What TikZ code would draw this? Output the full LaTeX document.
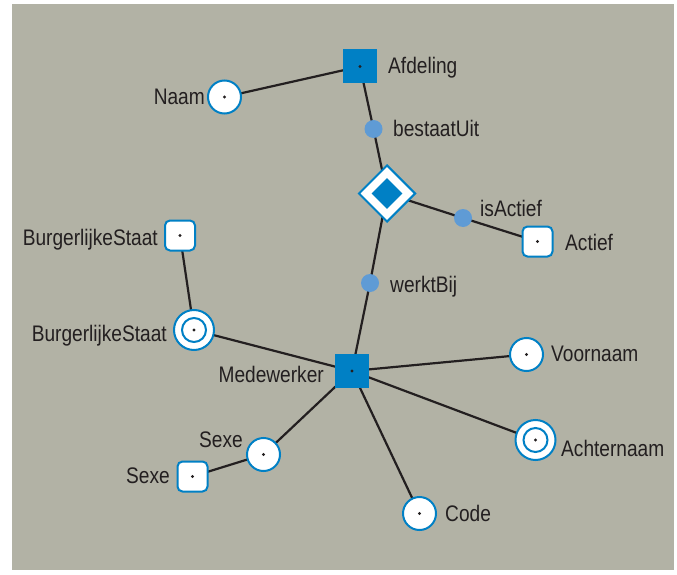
\documentclass[tikz,border=0pt]{standalone}
\usepackage{fontspec}
\usetikzlibrary{shapes.geometric}
\newfontfamily\labfont[FakeStretch=0.85]{Liberation Sans}
\definecolor{bggray}{RGB}{178,178,165}
\definecolor{myblue}{RGB}{0,128,197}
\definecolor{dotblue}{RGB}{95,155,213}
\definecolor{ink}{RGB}{35,31,32}
\pgfdeclarelayer{bg}
\pgfdeclarelayer{edges}
\pgfsetlayers{bg,edges,main}
\tikzset{
  ent/.style={rectangle, fill=myblue, minimum size=34pt, inner sep=0pt},
  att/.style={circle, draw=myblue, line width=2pt, fill=white, minimum size=33pt, inner sep=0pt},
  datt/.style={circle, draw=myblue, line width=2pt, fill=white, minimum size=40pt, inner sep=0pt},
  valbox/.style={rectangle, rounded corners=5pt, draw=myblue, line width=2pt, fill=white, minimum size=30pt, inner sep=0pt},
  reldot/.style={circle, fill=dotblue, minimum size=18pt, inner sep=0pt},
  lbl/.style={inner sep=0pt, text=ink, font=\labfont\fontsize{22.5}{25}\selectfont},
  conn/.style={draw=ink, line width=2.2pt},
}
\begin{document}
\begin{tikzpicture}[x=1pt,y=-1pt]
\useasboundingbox (0,0) rectangle (677,575);
\begin{pgfonlayer}{bg}
\fill[bggray] (12,4) rectangle (674,570);
\end{pgfonlayer}

% entities
\node[ent] (afd) at (360,66.5) {};
\node[ent] (mdw) at (352,371) {};
% diamond
\node[diamond, draw=myblue, line width=2pt, fill=white, minimum size=57pt, inner sep=0pt] (dia) at (387,193.5) {};
\node[diamond, fill=myblue, minimum size=31pt, inner sep=0pt] (diain) at (dia) {};
% relation dots
\node[reldot] (best) at (373.5,129) {};
\node[reldot] (isact) at (463,218) {};
\node[reldot] (werkt) at (370,283) {};
% attributes
\node[att] (naam) at (224.5,97) {};
\node[att] (voor) at (526.5,354.5) {};
\node[att] (code) at (419.5,513.5) {};
\node[att] (sexec) at (263.5,454.5) {};
\node[datt] (bsc) at (194,330) {};
\node[datt] (acht) at (535.5,440) {};
\draw[myblue, line width=2pt] (bsc) circle (12pt);
\draw[myblue, line width=2pt] (acht) circle (12pt);
% value boxes
\node[valbox] (bss) at (180,235.5) {};
\node[valbox] (sexes) at (192.5,476.5) {};
\node[valbox] (actief) at (537.5,241.5) {};

% center dots
\foreach \n in {afd,mdw,naam,voor,code,sexec,bsc,acht,bss,sexes,actief}
  \fill[ink] (\n) circle (1.6pt);

% connectors
\begin{pgfonlayer}{edges}
\draw[conn] (naam.center) -- (afd.center);
\draw[conn] (afd.center) -- (best.center) -- (dia.center);
\draw[conn] (dia.center) -- (isact.center) -- (actief.center);
\draw[conn] (dia.center) -- (werkt.center) -- (mdw.center);
\draw[conn] (bss.center) -- (bsc.center);
\draw[conn] (bsc.center) -- (mdw.center);
\draw[conn] (mdw.center) -- (voor.center);
\draw[conn] (mdw.center) -- (acht.center);
\draw[conn] (mdw.center) -- (code.center);
\draw[conn] (mdw.center) -- (sexec.center);
\draw[conn] (sexec.center) -- (sexes.center);
\end{pgfonlayer}

% labels
\node[lbl, anchor=base west] (lafd) at (388,74) {Afdeling};
\node[lbl, anchor=base east] (lnaam) at (205,105) {Naam};
\node[lbl, anchor=base west] (lbest) at (393,137) {bestaatUit};
\node[lbl, anchor=base west] (lisact) at (480,216) {isActief};
\node[lbl, anchor=base west] (lactief) at (565,250) {Actief};
\node[lbl, anchor=base west] (lwerkt) at (390,292) {werktBij};
\node[lbl, anchor=base east] (lbss) at (158,245) {BurgerlijkeStaat};
\node[lbl, anchor=base east] (lbsc) at (167,341) {BurgerlijkeStaat};
\node[lbl, anchor=base east] (lmdw) at (324,382) {Medewerker};
\node[lbl, anchor=base west] (lvoor) at (551,361) {Voornaam};
\node[lbl, anchor=base west] (lacht) at (561,456) {Achternaam};
\node[lbl, anchor=base west] (lcode) at (445,521) {Code};
\node[lbl, anchor=base east] (lsexec) at (243,447) {Sexe};
\node[lbl, anchor=base east] (lsexes) at (170,483) {Sexe};
\end{tikzpicture}
\end{document}
